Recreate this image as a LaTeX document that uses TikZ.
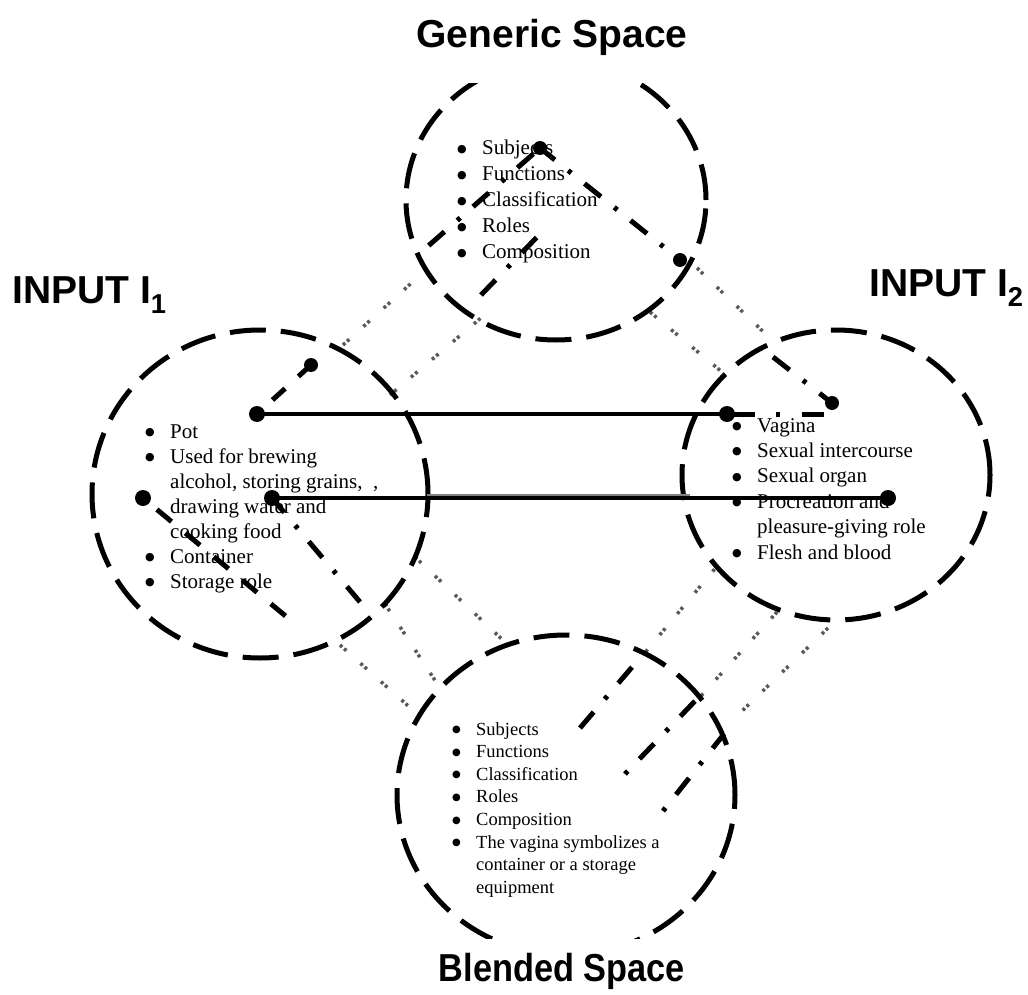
\documentclass[tikz,border=0pt]{standalone}
\usepackage{fontspec}
\setmainfont{Liberation Serif}
\newfontfamily\headfont{Liberation Sans}
\newfontfamily\symfont{DejaVu Sans}
\usetikzlibrary{shapes.geometric}
\newcommand{\bul}{\raisebox{2.8pt}{\symfont\fontsize{11}{11}\selectfont ●}}
\newcommand{\sbul}{\raisebox{2.4pt}{\symfont\fontsize{10}{10}\selectfont ●}}
\begin{document}
\begin{tikzpicture}[x=1pt,y=-1pt,
  space/.style={ellipse, draw, line width=5pt, dash pattern=on 36pt off 15pt, inner sep=0pt},
  bigdot/.style={circle, fill, inner sep=0pt, minimum size=16pt},
  smalldot/.style={circle, fill, inner sep=0pt, minimum size=14pt},
  solidlink/.style={line width=4pt},
  dashdot/.style={line width=5pt, dash pattern=on 21pt off 17pt on 4pt off 17pt},
  dashlink/.style={line width=5pt, dash pattern=on 19pt off 18pt},
  mapline/.style={line width=3.5pt, black!65, dash pattern=on 3pt off 2.5pt on 3pt off 19pt},
  title/.style={font=\headfont\bfseries\fontsize{39}{45}\selectfont, inner sep=0pt},
  items/.style={anchor=base west, inner sep=0pt, align=left},
]
\useasboundingbox (0,0) rectangle (1028,995);

% ---- gray mapping lines between spaces
\coordinate (g1a) at (343,345); \coordinate (g1b) at (428,268);
\coordinate (g2a) at (390,395); \coordinate (g2b) at (482,317);
\coordinate (g5a) at (697,268); \coordinate (g5b) at (775,343);
\coordinate (g6a) at (650,312); \coordinate (g6b) at (722,372);
\coordinate (g7a) at (415,557); \coordinate (g7b) at (508,645);
\coordinate (g8a) at (385,604); \coordinate (g8b) at (440,688);
\coordinate (g9a) at (340,645); \coordinate (g9b) at (415,712);
\coordinate (g10a) at (718,565); \coordinate (g10b) at (643,655);
\coordinate (g11a) at (777,612); \coordinate (g11b) at (700,697);
\coordinate (g12a) at (828,628); \coordinate (g12b) at (742,711);
\foreach \a/\b in {g1a/g1b,g2a/g2b,g5a/g5b,g6a/g6b,g7a/g7b,g8a/g8b,g9a/g9b,g10a/g10b,g11a/g11b,g12a/g12b}
  \draw[mapline] (\a) -- (\b);

% ---- the four spaces
\begin{scope}
\clip (0,84) rectangle (1028,938);
\node[space, minimum width=300pt, minimum height=280pt] (generic) at (556,200) {};
\node[space, minimum width=336pt, minimum height=328pt] (input1) at (260,494) {};
\node[space, minimum width=308pt, minimum height=290pt] (input2) at (836,475) {};
\node[space, minimum width=338pt, minimum height=320pt] (blend) at (566,795) {};
\end{scope}

% ---- titles
\node[title, anchor=base] (gentitle) at (552,48) {Generic Space};
\node[title, anchor=base west] (in1title) at (12,303) {INPUT I\textsubscript{1}};
\node[title, anchor=base west] (in2title) at (869,296) {INPUT I\textsubscript{2}};
\node[title, anchor=base] (blendtitle) at (562,981) {\scalebox{0.88}[1]{Blended Space}};

% ---- contents
\node[items, font=\fontsize{21}{26}\selectfont] (genlist) at (457,155) {%
\begin{tabular}[t]{@{}p{25pt}@{}l@{}}
\bul & Subjects\\
\bul & Functions\\
\bul & Classification\\
\bul & Roles\\
\bul & Composition
\end{tabular}};
\node[items, font=\fontsize{21}{25}\selectfont] (in1list) at (145,438) {%
\begin{tabular}[t]{@{}p{25pt}@{}l@{}}
\bul & Pot\\
\bul & Used for brewing\\
 & alcohol, storing grains, \ ,\\
 & drawing water and\\
 & cooking food\\
\bul & Container\\
\bul & Storage role
\end{tabular}};
\node[items, font=\fontsize{21}{25.4}\selectfont] (in2list) at (732,432) {%
\begin{tabular}[t]{@{}p{25pt}@{}l@{}}
\bul & Vagina\\
\bul & Sexual intercourse\\
\bul & Sexual organ\\
\bul & Procreation and\\
 & pleasure-giving role\\
\bul & Flesh and blood
\end{tabular}};
\node[items, font=\fontsize{18.5}{22.6}\selectfont] (blendlist) at (452,735) {%
\begin{tabular}[t]{@{}p{24pt}@{}l@{}}
\sbul & Subjects\\
\sbul & Functions\\
\sbul & Classification\\
\sbul & Roles\\
\sbul & Composition\\
\sbul & The vagina symbolizes a\\
 & container or a storage\\
 & equipment
\end{tabular}};

% ---- dots
\node[smalldot] (dA) at (540,148) {};
\node[smalldot] (dB) at (680,260) {};
\node[smalldot] (dC) at (311,365) {};
\node[bigdot] (dD) at (257,414) {};
\node[bigdot] (dE) at (727,414) {};
\node[smalldot] (dF) at (832,403) {};
\node[bigdot] (dG) at (143,498) {};
\node[bigdot] (dH) at (272,498) {};
\node[bigdot] (dI) at (888,498) {};

% ---- free ends
\coordinate (t2end) at (427,247);
\coordinate (t3a) at (481,295); \coordinate (t3b) at (538,236);
\coordinate (t4a) at (773,357);
\coordinate (r1corner) at (829,414);
\coordinate (l1end) at (288,618);
\coordinate (l2end) at (360,602);
\coordinate (b1a) at (580,728); \coordinate (b1b) at (633,666);
\coordinate (b2a) at (625,774); \coordinate (b2b) at (696,700);
\coordinate (b3a) at (663,811); \coordinate (b3b) at (724,734);
\coordinate (s2a) at (427,496.5); \coordinate (s2b) at (690,496.5);

% ---- links
\draw[line width=6pt, black!50] (s2a) -- (s2b);
\draw[solidlink] (dD.center) -- (dE.center);
\draw[solidlink] (dH.center) -- (dI.center);
\draw[dashdot, dash phase=2pt] (dA.center) -- (dB.center);
\draw[dashdot, dash phase=50pt] (dA.center) -- (t2end);
\draw[dashdot] (t3a) -- (t3b);
\draw[dashdot] (t4a) -- (dF.center);
\draw[line width=5pt, dash pattern=on 22pt off 21pt on 4pt off 22pt, dash phase=63pt] (dE.center) -- (r1corner) -- (dF.center);
\draw[dashlink, dash phase=19pt] (dG.center) -- (l1end);
\draw[line width=5pt, dash pattern=on 17pt off 18pt] (dC.center) -- (dD.center);
\draw[dashdot, dash phase=2pt] (dH.center) -- (l2end);
\draw[dashdot] (b1a) -- (b1b);
\draw[dashdot, dash phase=38pt] (b2a) -- (b2b);
\draw[dashdot, dash phase=38pt] (b3a) -- (b3b);
\end{tikzpicture}
\end{document}
